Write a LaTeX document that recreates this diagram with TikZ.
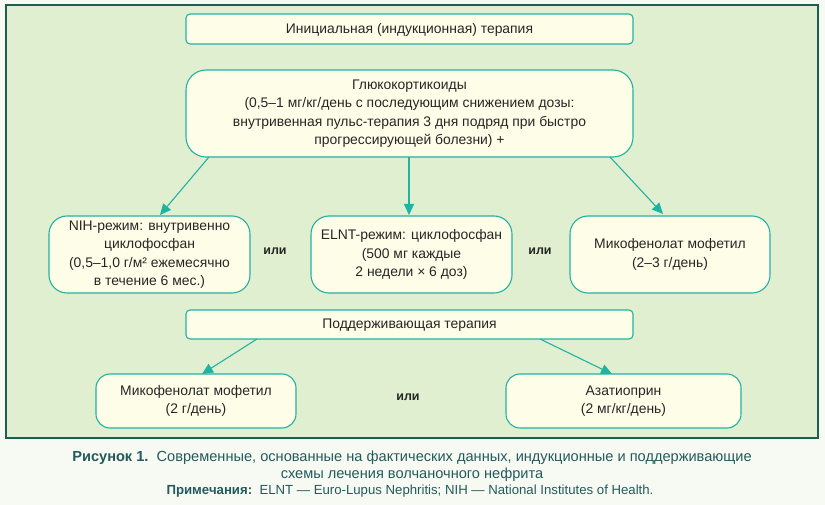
\documentclass[tikz,border=0pt]{standalone}
\usepackage{fontspec}
\setmainfont{Liberation Sans}
\usetikzlibrary{arrows.meta}
\definecolor{bgout}{HTML}{F6FAF2}
\definecolor{panel}{HTML}{E0EFD0}
\definecolor{panelborder}{HTML}{1E5E50}
\definecolor{teal}{HTML}{22B2A4}
\definecolor{boxfill}{HTML}{FEFEE8}
\definecolor{txt}{HTML}{262626}
\definecolor{captxt}{HTML}{245A5C}
\begin{document}
\begin{tikzpicture}[x=1pt,y=-1pt,
  every node/.style={inner sep=0pt, outer sep=0pt, text=txt, font=\fontsize{13.9}{18.4}\selectfont},
  flatbox/.style={draw=teal, line width=1.1pt, fill=boxfill, rounded corners=4pt, anchor=north west},
  roundbox/.style={draw=teal, line width=1.1pt, fill=boxfill, rounded corners=18pt, anchor=north west, align=center},
  conn/.style={draw=teal, line width=1.1pt, -{Triangle[length=11pt,width=10pt]}},
  orlabel/.style={font=\bfseries\fontsize{12.5}{14}\selectfont},
  captionstyle/.style={text=captxt, font=\fontsize{14.6}{16}\selectfont},
  notestyle/.style={text=captxt, font=\fontsize{13.2}{16}\selectfont}
]
\useasboundingbox (0,0) rectangle (825,505);
\fill[bgout] (0,0) rectangle (825,505);
\draw[panelborder, line width=1.2pt, fill=panel] (6,5) rectangle (818,438);

\node[flatbox, minimum width=447pt, minimum height=30pt] (init) at (186,14) {};
\node at ([yshift=-1pt]init.center) {Инициальная (индукционная) терапия};

\node[roundbox, minimum width=447pt, minimum height=87pt, rounded corners=20pt] (gc) at (186,70) {};
\node[align=center] at (gc.center) {Глюкокортикоиды\\(0,5–1 мг/кг/день с последующим снижением дозы:\\внутривенная пульс-терапия 3 дня подряд при быстро\\прогрессирующей болезни) +};

\node[roundbox, minimum width=201pt, minimum height=77pt] (nih) at (49,216) {};
\node[align=center] at (nih.center) {NIH-режим: внутривенно\\циклофосфан\\(0,5–1,0 г/м² ежемесячно\\в течение 6 мес.)};

\node[roundbox, minimum width=201pt, minimum height=77pt] (elnt) at (311,216) {};
\node[align=center] at (elnt.center) {ELNT-режим: циклофосфан\\(500 мг каждые\\2 недели × 6 доз)};

\node[roundbox, minimum width=200pt, minimum height=77pt] (mmf) at (570,216) {};
\node[align=center] at (mmf.center) {Микофенолат мофетил\\(2–3 г/день)};

\node[orlabel] (or1) at (275,251) {или};
\node[orlabel] (or2) at (540,251) {или};

\node[flatbox, minimum width=447pt, minimum height=29pt] (maint) at (186,310) {};
\node at ([yshift=-1pt]maint.center) {Поддерживающая терапия};

\node[roundbox, minimum width=200pt, minimum height=54pt, rounded corners=14pt] (mmf2) at (96,374) {};
\node[align=center] at (mmf2.center) {Микофенолат мофетил\\(2 г/день)};

\node[roundbox, minimum width=235pt, minimum height=54pt, rounded corners=14pt] (aza) at (506,374) {};
\node[align=center] at (aza.center) {Азатиоприн\\(2 мг/кг/день)};

\node[orlabel] (or3) at (408,397) {или};

\coordinate (g1) at (209,157);
\coordinate (g2) at (409,157);
\coordinate (g3) at (610,157);
\coordinate (n1) at (160,215);
\coordinate (e1) at (409,215);
\coordinate (m1) at (663,214);
\draw[conn] (g1) -- (n1);
\draw[conn] (g2) -- (e1);
\draw[conn] (g3) -- (m1);

\coordinate (p1) at (257,339);
\coordinate (p2) at (540,339);
\coordinate (b1) at (202,374);
\coordinate (b2) at (612,374);
\draw[conn] (p1) -- (b1);
\draw[conn] (p2) -- (b2);

\node[captionstyle] (c1) at (412,458) {\textbf{Рисунок 1.}\ \ Современные, основанные на фактических данных, индукционные и поддерживающие};
\node[captionstyle] (c2) at (412,475) {схемы лечения волчаночного нефрита};
\node[notestyle] (c3) at (410,491) {\textbf{Примечания:}\ \ ELNT — Euro-Lupus Nephritis; NIH — National Institutes of Health.};
\end{tikzpicture}
\end{document}
